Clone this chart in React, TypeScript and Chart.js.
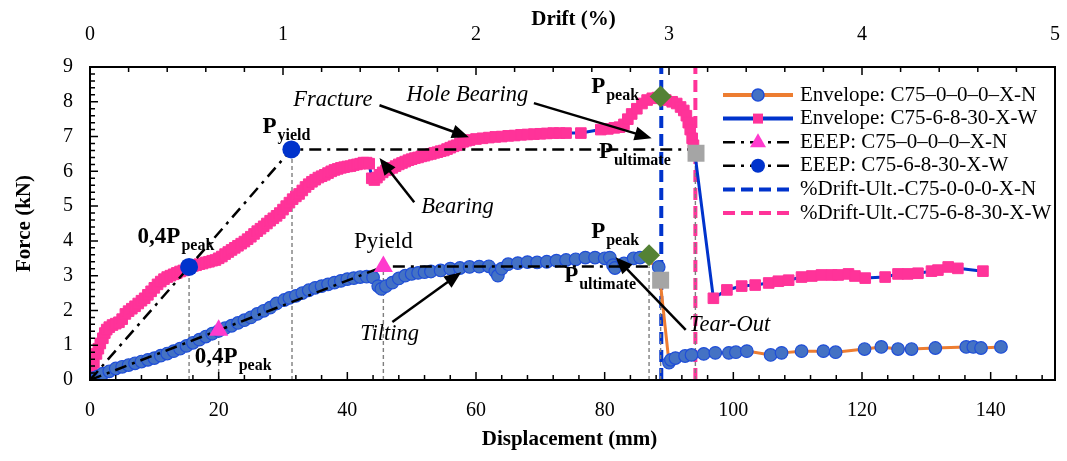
import React, { useEffect, useRef } from 'react';
import { Chart, registerables } from 'chart.js';

Chart.register(...registerables);

const SERIF = "'Liberation Serif', 'Times New Roman', Times, serif";

// ---------- Envelope C75-0-0-0-X-N (orange line, blue circles): [displacement mm, force kN] ----------
const envelopeN: [number, number][] = [
  [0, 0], [0.5, 0.05], [1.2, 0.1], [2, 0.18], [3, 0.25], [4, 0.33], [5, 0.38], [6, 0.43], [7, 0.48], [8, 0.53],
  [9, 0.58], [10, 0.63], [11, 0.7], [12, 0.76], [13, 0.83], [14, 0.9], [15, 0.98], [16, 1.07], [17, 1.16], [18, 1.25],
  [19, 1.33], [20, 1.41], [21, 1.49], [22, 1.56], [23, 1.64], [24, 1.72], [25, 1.8], [26, 1.9], [27, 1.99], [28, 2.08],
  [29, 2.2], [30.2, 2.3], [31, 2.36], [32, 2.42], [33, 2.5], [34, 2.58], [35, 2.65], [36, 2.7], [37, 2.75], [38, 2.8],
  [39, 2.85], [40, 2.9], [41, 2.93], [42, 2.96], [43, 2.97], [44, 2.95], [44.8, 2.7], [45.3, 2.62], [46, 2.7],
  [47, 2.8], [48, 2.92], [49, 3.0], [50, 3.05], [51, 3.08], [52, 3.1], [53, 3.12], [54.5, 3.15], [56, 3.2],
  [57.5, 3.22], [59, 3.25], [60.5, 3.26], [62, 3.27], [63, 3.12], [63.4, 3.0], [64, 3.2], [65, 3.33], [66.5, 3.36],
  [68, 3.39], [69.5, 3.38], [71, 3.4], [72.5, 3.43], [74, 3.45], [75.5, 3.47], [77, 3.52], [78.5, 3.52], [80, 3.5],
  [80.8, 3.52], [81.3, 3.3], [81.6, 3.22], [83, 3.35], [84.5, 3.5], [85.5, 3.52], [88.4, 3.25], [90, 0.5],
  [90.3, 0.58], [91, 0.63], [92.5, 0.69], [93.5, 0.72], [95.4, 0.75], [97.2, 0.78], [99.3, 0.78], [100.4, 0.8],
  [102.1, 0.83], [105.8, 0.72], [107.5, 0.78], [110.6, 0.83], [114, 0.83], [115.9, 0.8], [120.4, 0.89], [123, 0.95],
  [125.6, 0.89], [127.7, 0.89], [131.4, 0.92], [136.2, 0.95], [137.3, 0.95], [138.5, 0.92], [141.6, 0.95],
];

// ---------- Envelope C75-6-8-30-X-W (blue line, pink squares): [displacement mm, force kN] ----------
const envelopeW: [number, number][] = [
  [0, 0], [0.3, 0.25], [0.6, 0.5], [1, 0.75], [1.3, 0.9], [1.6, 1.05], [2, 1.2], [2.3, 1.35], [2.6, 1.45], [3, 1.52],
  [3.5, 1.58], [4, 1.62], [4.5, 1.66], [5, 1.75], [5.5, 1.9], [6, 1.98], [6.5, 2.05], [7, 2.12], [7.5, 2.2],
  [8, 2.28], [8.5, 2.35], [9, 2.45], [9.5, 2.55], [10, 2.65], [10.5, 2.75], [11, 2.83], [11.5, 2.9], [12, 2.96],
  [12.5, 3.0], [13, 3.04], [13.5, 3.08], [14, 3.12], [14.5, 3.15], [15, 3.2], [15.5, 3.25], [16, 3.28], [16.5, 3.3],
  [17, 3.33], [17.5, 3.35], [18, 3.38], [18.5, 3.4], [19, 3.43], [19.5, 3.45], [20, 3.5], [20.5, 3.55], [21, 3.62],
  [21.5, 3.68], [22, 3.74], [22.5, 3.8], [23, 3.86], [23.5, 3.92], [24, 3.98], [24.5, 4.05], [25, 4.12], [25.5, 4.2],
  [26, 4.28], [26.5, 4.35], [27, 4.42], [27.5, 4.5], [28, 4.58], [28.5, 4.65], [29, 4.72], [29.5, 4.8], [30, 4.9],
  [30.5, 5.0], [31, 5.1], [31.5, 5.2], [32, 5.28], [32.5, 5.35], [33, 5.45], [33.5, 5.55], [34, 5.63], [34.5, 5.7],
  [35, 5.76], [35.5, 5.82], [36, 5.86], [36.5, 5.9], [37, 5.95], [37.5, 6.0], [38, 6.04], [38.5, 6.07], [39, 6.1],
  [39.5, 6.12], [40, 6.14], [40.5, 6.15], [41, 6.18], [41.5, 6.2], [42, 6.22], [42.5, 6.25], [43, 6.25], [43.4, 6.22],
  [43.8, 5.8], [44.2, 5.75], [44.6, 5.82], [45, 5.9], [45.5, 5.97], [46, 6.03], [46.5, 6.07], [47, 6.1], [47.5, 6.15],
  [48, 6.2], [48.5, 6.24], [49, 6.28], [49.5, 6.32], [50, 6.35], [50.5, 6.38], [51, 6.4], [51.5, 6.43], [52, 6.45],
  [52.5, 6.48], [53, 6.5], [53.5, 6.53], [54, 6.55], [54.5, 6.58], [55, 6.6], [55.5, 6.64], [56, 6.68], [56.5, 6.72],
  [57, 6.75], [57.5, 6.8], [58, 6.85], [58.5, 6.88], [59, 6.9], [60, 6.93], [61, 6.95], [62, 6.97], [63, 6.99],
  [64, 7.0], [65, 7.02], [66, 7.03], [67, 7.05], [68, 7.06], [69, 7.07], [70, 7.08], [71, 7.09], [72, 7.1], [73, 7.1],
  [74, 7.1], [76.3, 7.1], [79.4, 7.2], [80.5, 7.22], [81.5, 7.25], [82.3, 7.27], [83, 7.35], [83.6, 7.5], [84.2, 7.65],
  [85, 7.8], [85.8, 7.95], [86.6, 8.05], [87.4, 8.1], [88.2, 8.12], [89.5, 8.05], [90.5, 8.0], [91.2, 7.95],
  [91.8, 7.85], [92.3, 7.75], [92.7, 7.6], [93, 7.4], [93.3, 7.2], [93.6, 6.95], [93.8, 6.75], [94.0, 6.55],
  [96.9, 2.35], [99, 2.59], [101.3, 2.7], [103.4, 2.73], [105.5, 2.79], [107, 2.84], [108.6, 2.87], [110.6, 2.96],
  [112.2, 2.99], [113.7, 3.02], [115.3, 3.02], [116.3, 3.02], [117.9, 3.05], [118.9, 2.99], [120.5, 2.93],
  [123.6, 2.96], [125.6, 3.05], [127.1, 3.05], [128.7, 3.07], [130.8, 3.13], [131.8, 3.16], [133.4, 3.25],
  [134.9, 3.21], [138.8, 3.13],
];

// ---------- EEEP bilinear curves ----------
const eeepN_disp = [0, 20, 45.6, 86.9];
const eeepN_force = [0, 1.43, 3.26, 3.26];
const eeepW_disp = [0, 15.4, 31.3, 94.1];
const eeepW_force = [0, 3.25, 6.63, 6.63];

// ---------- Peak / ultimate markers ----------
const peak_disp = [86.9, 88.7];
const peak_force = [3.59, 8.15];
const ultimate_disp = [88.7, 94.2];
const ultimate_force = [2.87, 6.52];

// ---------- Ultimate drift verticals ----------
const driftUltN_disp = 88.8;
const driftUltW_disp = 94.1;

// ---------- Grey guide verticals (disp, force reached) ----------
const guide_disp = [15.4, 20, 31.4, 45.6, 86.9, 88.7, 94.1];
const guide_force = [3.25, 1.43, 6.63, 3.26, 3.26, 2.87, 6.63];

// ---------- Axes ----------
const dispTicks = [0, 20, 40, 60, 80, 100, 120, 140];
const driftTicks = [0, 1, 2, 3, 4, 5];
const forceTicks = [0, 1, 2, 3, 4, 5, 6, 7, 8, 9];

// ---------- Legend ----------
const legendLabels = [
  'Envelope: C75\u20130\u20130\u20130\u2013X-N',
  'Envelope: C75-6-8-30-X-W',
  'EEEP: C75\u20130\u20130\u20130\u2013X-N',
  'EEEP: C75-6-8-30-X-W',
  '%Drift-Ult.-C75-0-0-0-X-N',
  '%Drift-Ult.-C75-6-8-30-X-W',
];

// ---------- Annotations (data coordinates) ----------
const noteTexts = ['Fracture', 'Hole Bearing', 'Bearing', 'Tilting', 'Tear-Out'];
const noteX = [31.6, 49.2, 51.5, 42.0, 93.1];
const noteY = [8.05, 8.19, 4.97, 1.32, 1.58];
const arrowFromX = [45, 69, 50.4, 47, 92.6];
const arrowFromY = [7.9, 7.96, 5.11, 1.67, 1.44];
const arrowToX = [58.9, 87.3, 45, 57.7, 81.7];
const arrowToY = [6.98, 6.95, 6.38, 3.1, 3.53];

const pLabelMain = ['P', '0,4P', '0,4P', 'P', 'P', 'P', 'P'];
const pLabelSub = ['yield', 'peak', 'peak', 'peak', 'ultimate', 'peak', 'ultimate'];
const pLabelX = [26.8, 7.4, 16.3, 77.9, 79.1, 77.9, 73.7];
const pLabelY = [7.1, 3.94, 0.49, 8.25, 6.38, 4.08, 2.82];
const plainLabel = 'Pyield';
const plainLabelX = 45.6;
const plainLabelY = 3.97;

const C_ORANGE = '#ED7D31';
const C_CIRCLE = '#4472C4';
const C_CIRCLE_BORDER = '#1F4ED8';
const C_BLUE = '#0033CC';
const C_PINK = '#FF3399';
const C_MAGENTA = '#FF3ACD';
const C_GREEN = '#548235';
const C_GREY = '#A5A5A5';

const pts = (xs: number[], ys: number[]) => xs.map((x, i) => ({ x, y: ys[i] }));
const pairPts = (arr: [number, number][]) => arr.map(([x, y]) => ({ x, y }));

function drawArrow(ctx: CanvasRenderingContext2D, x1: number, y1: number, x2: number, y2: number) {
  const ang = Math.atan2(y2 - y1, x2 - x1);
  const L = 17;
  const W = 7;
  const c = Math.cos(ang);
  const s = Math.sin(ang);
  ctx.beginPath();
  ctx.moveTo(x1, y1);
  ctx.lineTo(x2 - L * 0.7 * c, y2 - L * 0.7 * s);
  ctx.stroke();
  ctx.beginPath();
  ctx.moveTo(x2, y2);
  ctx.lineTo(x2 - L * c + W * s, y2 - L * s - W * c);
  ctx.lineTo(x2 - L * c - W * s, y2 - L * s + W * c);
  ctx.closePath();
  ctx.fill();
}

const decorPlugin = {
  id: 'decor',
  afterDatasetsDraw(chart: any) {
    const { ctx, chartArea: a, scales } = chart;
    const xs = scales.x;
    const ys = scales.y;
    const xt = scales.x2;
    ctx.save();

    // frame
    ctx.setLineDash([]);
    ctx.strokeStyle = '#000';
    ctx.lineWidth = 2;
    ctx.strokeRect(a.left, a.top, a.right - a.left, a.bottom - a.top);

    // inward ticks
    ctx.lineWidth = 1.5;
    ctx.beginPath();
    for (let i = 0; i * 4 <= 150; i++) {
      const v = i * 4;
      const px = xs.getPixelForValue(v);
      const len = v % 20 === 0 ? 8 : 5;
      ctx.moveTo(px, a.bottom);
      ctx.lineTo(px, a.bottom - len);
    }
    for (let i = 0; i <= 25; i++) {
      const px = xt.getPixelForValue(i * 0.2);
      const len = i % 5 === 0 ? 8 : 5;
      ctx.moveTo(px, a.top);
      ctx.lineTo(px, a.top + len);
    }
    for (let i = 0; i <= 45; i++) {
      const py = ys.getPixelForValue(i * 0.2);
      const len = i % 5 === 0 ? 8 : 5;
      ctx.moveTo(a.left, py);
      ctx.lineTo(a.left + len, py);
    }
    ctx.stroke();

    // arrows
    ctx.fillStyle = '#000';
    ctx.strokeStyle = '#000';
    ctx.lineWidth = 2.5;
    for (let i = 0; i < arrowFromX.length; i++) {
      drawArrow(
        ctx,
        xs.getPixelForValue(arrowFromX[i]),
        ys.getPixelForValue(arrowFromY[i]),
        xs.getPixelForValue(arrowToX[i]),
        ys.getPixelForValue(arrowToY[i]),
      );
    }

    // italic notes
    ctx.font = `italic 22.5px ${SERIF}`;
    ctx.textAlign = 'left';
    ctx.textBaseline = 'middle';
    for (let i = 0; i < noteTexts.length; i++) {
      ctx.fillText(noteTexts[i], xs.getPixelForValue(noteX[i]), ys.getPixelForValue(noteY[i]));
    }

    // P labels with subscripts
    ctx.textBaseline = 'alphabetic';
    for (let i = 0; i < pLabelMain.length; i++) {
      const px = xs.getPixelForValue(pLabelX[i]);
      const py = ys.getPixelForValue(pLabelY[i]);
      ctx.font = `bold 23px ${SERIF}`;
      ctx.fillText(pLabelMain[i], px, py);
      const w = ctx.measureText(pLabelMain[i]).width;
      ctx.font = `bold 16px ${SERIF}`;
      ctx.fillText(pLabelSub[i], px + w + 1, py + 7);
    }
    ctx.font = `23px ${SERIF}`;
    ctx.textAlign = 'center';
    ctx.textBaseline = 'middle';
    ctx.fillText(plainLabel, xs.getPixelForValue(plainLabelX), ys.getPixelForValue(plainLabelY));

    // legend
    const lx0 = 723;
    const lx1 = 793;
    const lmid = (lx0 + lx1) / 2;
    for (let i = 0; i < legendLabels.length; i++) {
      const y = 95 + 23.6 * i;
      ctx.save();
      if (i === 0 || i === 1) {
        ctx.strokeStyle = i === 0 ? C_ORANGE : C_BLUE;
        ctx.lineWidth = 4;
        ctx.setLineDash([]);
      } else if (i === 2 || i === 3) {
        ctx.strokeStyle = '#000';
        ctx.lineWidth = 2.5;
        ctx.setLineDash([12, 6, 3, 6]);
      } else {
        ctx.strokeStyle = i === 4 ? C_BLUE : C_PINK;
        ctx.lineWidth = 4;
        ctx.setLineDash([12, 6]);
      }
      ctx.beginPath();
      ctx.moveTo(lx0, y);
      ctx.lineTo(lx1, y);
      ctx.stroke();
      ctx.setLineDash([]);
      if (i === 0) {
        ctx.fillStyle = C_CIRCLE;
        ctx.strokeStyle = C_CIRCLE_BORDER;
        ctx.lineWidth = 1.5;
        ctx.beginPath();
        ctx.arc(lmid, y, 6, 0, Math.PI * 2);
        ctx.fill();
        ctx.stroke();
      } else if (i === 1) {
        ctx.fillStyle = C_PINK;
        ctx.fillRect(lmid - 5, y - 5, 10, 10);
      } else if (i === 2) {
        ctx.fillStyle = C_MAGENTA;
        ctx.beginPath();
        ctx.moveTo(lmid, y - 9);
        ctx.lineTo(lmid + 8, y + 5);
        ctx.lineTo(lmid - 8, y + 5);
        ctx.closePath();
        ctx.fill();
      } else if (i === 3) {
        ctx.fillStyle = C_BLUE;
        ctx.beginPath();
        ctx.arc(lmid, y, 7, 0, Math.PI * 2);
        ctx.fill();
      }
      ctx.restore();
      ctx.fillStyle = '#000';
      ctx.font = `21px ${SERIF}`;
      ctx.textAlign = 'left';
      ctx.textBaseline = 'middle';
      ctx.fillText(legendLabels[i], 800, y);
    }

    // axis titles
    ctx.fillStyle = '#000';
    ctx.font = `bold 21px ${SERIF}`;
    ctx.textAlign = 'center';
    ctx.textBaseline = 'middle';
    ctx.fillText('Displacement (mm)', (a.left + a.right) / 2 - 3, 440);
    ctx.fillText('Drift (%)', (a.left + a.right) / 2 + 1, 20);
    ctx.save();
    ctx.translate(25, (a.top + a.bottom) / 2);
    ctx.rotate(-Math.PI / 2);
    ctx.fillText('Force (kN)', 0, 0);
    ctx.restore();

    ctx.restore();
  },
};

const noHPad = (s: any) => {
  s.paddingLeft = 0;
  s.paddingRight = 0;
};

export default function App() {
  const ref = useRef<HTMLCanvasElement>(null);

  useEffect(() => {
    document.body.style.margin = '0';
    if (!ref.current) return;

    const guideSets = guide_disp.map((d, i) => ({
      data: [
        { x: d, y: 0 },
        { x: d, y: guide_force[i] },
      ],
      showLine: true,
      borderColor: '#7F7F7F',
      borderWidth: 1.4,
      borderDash: [4, 3],
      pointRadius: 0,
      order: 9,
    }));

    const chart = new Chart(ref.current, {
      type: 'scatter',
      data: {
        datasets: [
          {
            data: [
              { x: driftUltN_disp, y: 0 },
              { x: driftUltN_disp, y: 9 },
            ],
            showLine: true,
            borderColor: C_BLUE,
            borderWidth: 4,
            borderDash: [12, 6],
            pointRadius: 0,
            order: 10,
          },
          {
            data: [
              { x: driftUltW_disp, y: 0 },
              { x: driftUltW_disp, y: 9 },
            ],
            showLine: true,
            borderColor: C_PINK,
            borderWidth: 4,
            borderDash: [12, 6],
            pointRadius: 0,
            order: 10,
          },
          ...guideSets,
          {
            data: pairPts(envelopeW),
            showLine: true,
            borderColor: C_BLUE,
            borderWidth: 3,
            pointStyle: 'rect',
            pointRadius: 7.5,
            pointBackgroundColor: C_PINK,
            pointBorderColor: C_PINK,
            pointBorderWidth: 1,
            order: 8,
          },
          {
            data: pairPts(envelopeN),
            showLine: true,
            borderColor: C_ORANGE,
            borderWidth: 3,
            pointStyle: 'circle',
            pointRadius: 6.3,
            pointBackgroundColor: C_CIRCLE,
            pointBorderColor: C_CIRCLE_BORDER,
            pointBorderWidth: 1.2,
            order: 7,
          },
          {
            data: pts(eeepN_disp, eeepN_force),
            showLine: true,
            borderColor: '#000',
            borderWidth: 2.5,
            borderDash: [12, 6, 3, 6],
            pointStyle: 'triangle',
            pointRadius: [0, 11, 11, 0],
            pointBackgroundColor: C_MAGENTA,
            pointBorderColor: C_MAGENTA,
            pointBorderWidth: 0,
            order: 5,
          },
          {
            data: pts(eeepW_disp, eeepW_force),
            showLine: true,
            borderColor: '#000',
            borderWidth: 2.5,
            borderDash: [12, 6, 3, 6],
            pointStyle: 'circle',
            pointRadius: [0, 9, 9, 0],
            pointBackgroundColor: C_BLUE,
            pointBorderColor: C_BLUE,
            pointBorderWidth: 0,
            order: 4,
          },
          {
            data: pts(peak_disp, peak_force),
            showLine: false,
            pointStyle: 'rectRot',
            pointRadius: 11,
            pointBackgroundColor: C_GREEN,
            pointBorderColor: C_GREEN,
            pointBorderWidth: 0,
            order: 2,
          },
          {
            data: pts(ultimate_disp, ultimate_force),
            showLine: false,
            pointStyle: 'rect',
            pointRadius: 12,
            pointBackgroundColor: C_GREY,
            pointBorderColor: C_GREY,
            pointBorderWidth: 0,
            order: 2,
          },
        ],
      },
      options: {
        animation: false,
        responsive: true,
        maintainAspectRatio: false,
        layout: { padding: { left: 0, right: 10, top: 0, bottom: 0 } },
        plugins: {
          legend: { display: false },
          tooltip: { enabled: false },
          title: { display: false },
        },
        scales: {
          x: {
            type: 'linear',
            position: 'bottom',
            min: 0,
            max: 150,
            grid: { display: false, drawTicks: false },
            border: { display: false },
            afterFit: (s: any) => {
              s.height = 81;
              noHPad(s);
            },
            afterBuildTicks: (s: any) => {
              s.ticks = dispTicks.map((v) => ({ value: v }));
            },
            ticks: {
              padding: 19,
              color: '#000',
              maxRotation: 0,
              font: { family: SERIF, size: 20 },
            },
          },
          x2: {
            type: 'linear',
            position: 'top',
            axis: 'x',
            min: 0,
            max: 5,
            grid: { display: false, drawTicks: false },
            border: { display: false },
            afterFit: (s: any) => {
              s.height = 67;
              noHPad(s);
            },
            afterBuildTicks: (s: any) => {
              s.ticks = driftTicks.map((v) => ({ value: v }));
            },
            ticks: {
              padding: 20,
              color: '#000',
              maxRotation: 0,
              font: { family: SERIF, size: 20 },
            },
          },
          y: {
            type: 'linear',
            min: 0,
            max: 9,
            grid: { display: false, drawTicks: false },
            border: { display: false },
            afterFit: (s: any) => {
              s.width = 90;
            },
            afterBuildTicks: (s: any) => {
              s.ticks = forceTicks.map((v) => ({ value: v }));
            },
            ticks: {
              padding: 17,
              color: '#000',
              font: { family: SERIF, size: 20 },
            },
          },
        },
      },
      plugins: [decorPlugin],
    } as any);

    return () => chart.destroy();
  }, []);

  return (
    <div style={{ position: 'absolute', left: 0, top: 0, width: 1067, height: 461 }}>
      <canvas ref={ref} />
    </div>
  );
}
